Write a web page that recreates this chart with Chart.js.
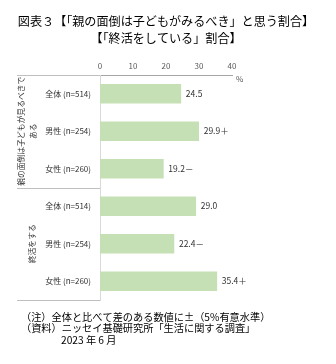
<!DOCTYPE html>
<html>
<head>
<meta charset="utf-8">
<script src="https://cdn.jsdelivr.net/npm/chart.js@4"></script>
<style>
  html, body { margin: 0; padding: 0; background: #fff; }
</style>
</head>
<body>
<canvas id="myChart" width="336" height="364"></canvas>
<script>
const categories = ['全体 (n=514)', '男性 (n=254)', '女性 (n=260)', '全体 (n=514)', '男性 (n=254)', '女性 (n=260)'];
const values = [24.5, 29.9, 19.2, 29.0, 22.4, 35.4];
const signs = ['', '＋', '－', '', '－', '＋'];
const groupLabels = [['親の面倒は子どもが見るべきで', 'ある'], ['終活をする']];
const groupSize = 3;
const titleLines = ['図表３【「親の面倒は子どもがみるべき」と思う割合】', '【「終活をしている」割合】'];
const noteLines = ['（注）全体と比べて差のある数値に±（5%有意水準）', '（資料）ニッセイ基礎研究所「生活に関する調査」', '2023 年 6 月'];

const FONT = '"Noto Sans CJK JP", "Noto Sans", sans-serif';
const lineColor = '#bfbfbf';

const extras = {
  id: 'extras',
  afterDraw(chart) {
    const ctx = chart.ctx;
    const area = chart.chartArea;
    const y = chart.scales.y;
    const x = chart.scales.x;
    ctx.save();

    // title
    ctx.fillStyle = '#000';
    ctx.textAlign = 'center';
    ctx.textBaseline = 'middle';
    ctx.font = '12.1px ' + FONT;
    ctx.fillText(titleLines[0], 166, 21);
    ctx.fillText(titleLines[1], 166, 38);

    // group separators on the left
    const mid = (y.getPixelForValue(groupSize - 1) + y.getPixelForValue(groupSize)) / 2;
    ctx.strokeStyle = lineColor;
    ctx.lineWidth = 1;
    [area.top, mid, area.bottom].forEach(py => {
      ctx.beginPath();
      ctx.moveTo(17, Math.round(py) + 0.5);
      ctx.lineTo(area.left, Math.round(py) + 0.5);
      ctx.stroke();
    });

    // rotated group labels
    ctx.fillStyle = '#333';
    ctx.font = '7.8px ' + FONT;
    const spans = [[area.top, mid], [mid, area.bottom]];
    const xs = [[21, 33], [32]];
    groupLabels.forEach((lines, g) => {
      const cy = (spans[g][0] + spans[g][1]) / 2;
      lines.forEach((t, i) => {
        ctx.save();
        ctx.translate(xs[g][i], cy);
        ctx.rotate(-Math.PI / 2);
        ctx.fillText(t, 0, 0);
        ctx.restore();
      });
    });

    // value labels
    ctx.textAlign = 'left';
    ctx.fillStyle = '#333';
    ctx.font = '8.5px ' + FONT;
    values.forEach((v, i) => {
      const px = x.getPixelForValue(v) + 5;
      ctx.fillText(v.toFixed(1) + signs[i], px, y.getPixelForValue(i));
    });

    // unit
    ctx.fillStyle = '#595959';
    ctx.font = '8px ' + FONT;
    ctx.fillText('%', area.right + 4, area.top + 4);

    // notes
    ctx.fillStyle = '#000';
    ctx.font = '10.2px ' + FONT;
    ctx.fillText(noteLines[0], 21, 317);
    ctx.fillText(noteLines[1], 21, 328.5);
    ctx.fillText(noteLines[2], 61, 340);
    ctx.restore();
  }
};

const data = {
  labels: categories,
  datasets: [{
    data: values,
    backgroundColor: '#c5e0b4',
    barThickness: 19
  }]
};

const config = {
  type: 'bar',
  data,
  options: {
    indexAxis: 'y',
    responsive: false,
    animation: false,
    layout: { padding: { top: 50, left: 0, right: 104, bottom: 64 } },
    plugins: {
      legend: { display: false },
      tooltip: { enabled: false },
      title: { display: false }
    },
    scales: {
      x: {
        position: 'top',
        min: 0,
        max: 40,
        ticks: { stepSize: 10, padding: 4, color: '#595959', font: { size: 8, family: FONT } },
        grid: { display: false, drawTicks: false },
        border: { display: true, color: '#a6a6a6' },
        afterFit(scale) { scale.height = 25; }
      },
      y: {
        ticks: { padding: 9, color: '#333', font: { size: 8, family: FONT } },
        grid: { display: false, drawTicks: false },
        border: { display: true, color: '#d9d9d9' },
        afterFit(scale) { scale.width = 100; }
      }
    }
  },
  plugins: [extras]
};

new Chart(document.getElementById('myChart'), config);
</script>
</body>
</html>
